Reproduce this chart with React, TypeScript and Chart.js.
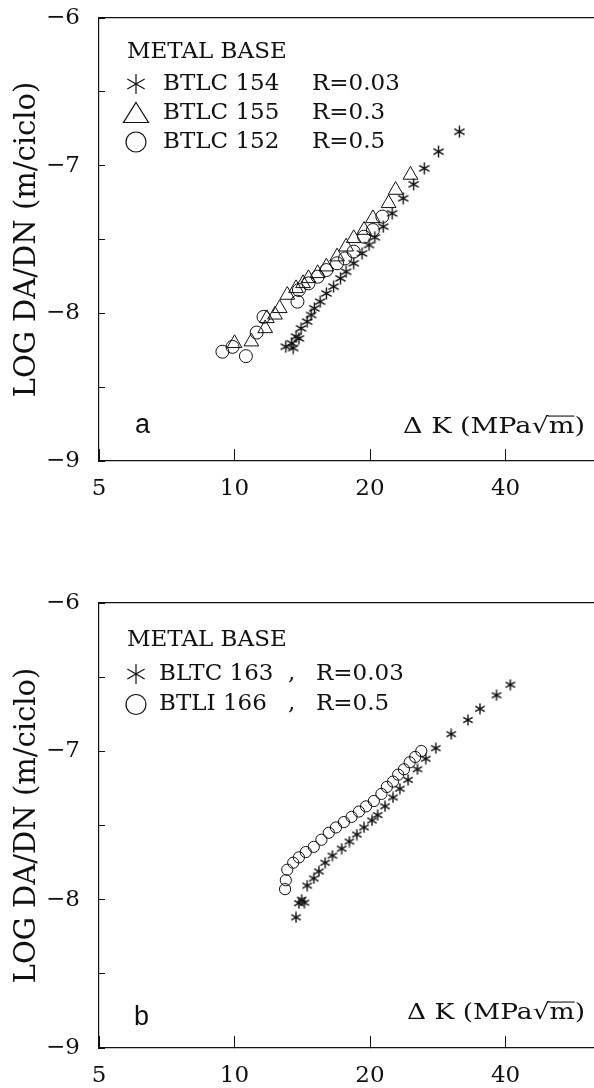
import React, { useEffect, useRef } from 'react';
import { Chart, registerables } from 'chart.js';

Chart.register(...registerables);

// ---------- data ----------
const xTickValues = [5, 10, 20, 40];
const xMin = 5;
const xMax = 62.9;
const yMin = -9;
const yMax = -6;
const yStep = 0.5;
const yTitle = 'LOG DA/DN (m/ciclo)';
const xLabelText = ['\u0394 K (MPa', '\u221A', 'm', ')'];
const legendTitle = 'METAL BASE';

// panel a
const a154X = [31.6, 28.4, 26.4, 25.0, 23.7, 22.4, 21.4, 20.5, 19.9, 19.2, 18.4, 17.7, 17.2, 16.6, 16.0, 15.5, 15.05, 14.8, 14.5, 14.06, 13.9, 13.7, 13.4, 13.5, 13.0];
const a154Y = [-6.77, -6.905, -7.018, -7.126, -7.221, -7.323, -7.413, -7.485, -7.537, -7.594, -7.661, -7.718, -7.763, -7.819, -7.865, -7.921, -7.966, -8.011, -8.056, -8.102, -8.17, -8.158, -8.203, -8.235, -8.226];
const a155X = [24.6, 22.8, 22.0, 20.3, 19.4, 18.4, 17.7, 16.9, 16.0, 15.3, 14.6, 14.2, 13.7, 13.1, 12.6, 12.3, 11.8, 11.7, 10.9, 10.0];
const a155Y = [-7.063, -7.165, -7.255, -7.357, -7.436, -7.492, -7.549, -7.616, -7.684, -7.729, -7.763, -7.797, -7.831, -7.876, -7.966, -8.01, -8.034, -8.102, -8.192, -8.203];
const a152X = [21.3, 20.3, 19.4, 18.4, 17.6, 16.9, 16.0, 15.3, 14.6, 13.9, 13.8, 11.6, 11.2, 9.9, 9.4, 10.6];
const a152Y = [-7.345, -7.436, -7.481, -7.582, -7.628, -7.661, -7.707, -7.752, -7.797, -7.842, -7.921, -8.024, -8.13, -8.227, -8.26, -8.29];
const aNames = ['BTLC 154', 'BTLC 155', 'BTLC 152'];
const aRatios = ['R=0.03', 'R=0.3', 'R=0.5'];
const aSymbols = ['asterisk', 'triangle', 'circle'];

// panel b
const b163X = [41.0, 38.2, 35.1, 33.0, 30.3, 28.0, 26.6, 25.5, 24.3, 23.3, 22.5, 21.6, 20.8, 20.2, 19.4, 18.7, 18.0, 17.3, 16.5, 15.9, 15.4, 15.0, 14.5, 14.3, 14.1, 13.9, 13.7];
const b163Y = [-6.551, -6.622, -6.713, -6.789, -6.884, -6.979, -7.05, -7.121, -7.192, -7.252, -7.311, -7.371, -7.43, -7.466, -7.513, -7.561, -7.608, -7.656, -7.703, -7.751, -7.81, -7.857, -7.905, -8.02, -8.0, -8.024, -8.119];
const b166X = [26.0, 25.2, 24.5, 23.8, 23.1, 22.5, 21.8, 21.2, 20.4, 19.6, 18.9, 18.2, 17.5, 16.8, 16.2, 15.6, 15.0, 14.4, 13.9, 13.5, 13.1, 13.0, 12.95];
const b166Y = [-6.998, -7.038, -7.074, -7.121, -7.157, -7.204, -7.24, -7.287, -7.335, -7.371, -7.406, -7.442, -7.477, -7.513, -7.549, -7.596, -7.644, -7.679, -7.715, -7.751, -7.798, -7.869, -7.929];
const bNames = ['BLTC 163', 'BTLI 166'];
const bRatios = ['R=0.03', 'R=0.5'];
const bSymbols = ['asterisk', 'circle'];

// ---------- styling ----------
const INK = '#111111';
const SERIF = '"DejaVu Serif", serif';
const SANS = '"Liberation Sans", Arial, sans-serif';

function makeAsterisk(size: number, lw: number): HTMLCanvasElement {
  const c = document.createElement('canvas');
  c.width = size;
  c.height = size;
  const ctx = c.getContext('2d')!;
  ctx.strokeStyle = INK;
  ctx.lineWidth = lw;
  const r = size / 2 - 0.6;
  const cx = size / 2;
  const cy = size / 2;
  ctx.beginPath();
  for (const deg of [90, 30, -30]) {
    const a = (deg * Math.PI) / 180;
    ctx.moveTo(cx - r * Math.cos(a), cy - r * Math.sin(a));
    ctx.lineTo(cx + r * Math.cos(a), cy + r * Math.sin(a));
  }
  ctx.stroke();
  return c;
}

function pts(xs: number[], ys: number[]) {
  return xs.map((x, i) => ({ x, y: ys[i] }));
}

function drawLegendSymbol(ctx: CanvasRenderingContext2D, kind: string, x: number, y: number) {
  ctx.save();
  ctx.strokeStyle = INK;
  ctx.lineWidth = 1.2;
  ctx.beginPath();
  if (kind === 'asterisk') {
    const r = 10;
    for (const deg of [90, 30, -30]) {
      const a = (deg * Math.PI) / 180;
      ctx.moveTo(x - r * Math.cos(a), y - r * Math.sin(a));
      ctx.lineTo(x + r * Math.cos(a), y + r * Math.sin(a));
    }
  } else if (kind === 'triangle') {
    ctx.moveTo(x, y - 11);
    ctx.lineTo(x + 12.5, y + 9);
    ctx.lineTo(x - 12.5, y + 9);
    ctx.closePath();
  } else {
    ctx.arc(x, y, 10, 0, Math.PI * 2);
  }
  ctx.stroke();
  ctx.restore();
}

interface PanelCfg {
  letter: string;
  names: string[];
  ratios: string[];
  symbols: string[];
  comma: boolean;
  titleDx: number;
  titleDy: number;
  rowDy: number[];
  symDx: number;
  nameDx: number;
  commaDx: number;
  rDx: number;
  letterDx: number;
  letterBase: number;
  dkBase: number;
  dkLeft: number;
  dkRight: number;
}

function makeAnnotPlugin(cfg: PanelCfg) {
  return {
    id: 'annot',
    afterDraw(chart: any) {
      const { ctx, chartArea: a } = chart;
      ctx.save();
      ctx.fillStyle = INK;
      ctx.textAlign = 'left';
      ctx.textBaseline = 'middle';
      ctx.font = `23px ${SERIF}`;
      ctx.fillText(legendTitle, a.left + cfg.titleDx, a.top + cfg.titleDy);
      cfg.names.forEach((name, i) => {
        const y = a.top + cfg.rowDy[i];
        drawLegendSymbol(ctx, cfg.symbols[i], a.left + cfg.symDx, y);
        ctx.fillText(name, a.left + cfg.nameDx, y);
        if (cfg.comma) ctx.fillText(',', a.left + cfg.commaDx, y);
        ctx.fillText(cfg.ratios[i], a.left + cfg.rDx, y);
      });
      // panel letter
      ctx.textBaseline = 'alphabetic';
      ctx.font = `27px ${SANS}`;
      ctx.fillText(cfg.letter, a.left + cfg.letterDx, a.bottom - cfg.letterBase);
      // Delta K label (wide face: stretched horizontally)
      const fs = 22;
      ctx.font = `${fs}px ${SERIF}`;
      const widths = xLabelText.map((t) => ctx.measureText(t).width);
      const total = widths.reduce((s, w) => s + w, 0);
      const sx = (cfg.dkRight - cfg.dkLeft) / total;
      const base = a.bottom - cfg.dkBase;
      ctx.translate(cfg.dkLeft, base);
      ctx.scale(sx, 1);
      let x = 0;
      const xs: number[] = [];
      xLabelText.forEach((t, i) => {
        xs.push(x);
        ctx.fillText(t, x, 0);
        x += widths[i];
      });
      ctx.strokeStyle = INK;
      ctx.lineWidth = 1.1;
      ctx.beginPath();
      const oy = -fs * 0.77;
      ctx.moveTo(xs[2] - 1, oy);
      ctx.lineTo(xs[2] + widths[2], oy);
      ctx.stroke();
      ctx.restore();
    },
  };
}

function buildConfig(datasets: any[], chartTop: number, chartBottom: number, canvasH: number, plugin: any) {
  const tickFont = { family: SERIF, size: 23 };
  return {
    type: 'scatter' as const,
    data: { datasets },
    options: {
      responsive: false,
      animation: false as const,
      devicePixelRatio: 1,
      layout: { padding: 0, autoPadding: false },
      events: [],
      plugins: { legend: { display: false }, tooltip: { enabled: false } },
      scales: {
        x: {
          type: 'logarithmic' as const,
          position: 'bottom' as const,
          min: xMin,
          max: xMax,
          afterBuildTicks: (s: any) => {
            s.ticks = xTickValues.map((v) => ({ value: v }));
          },
          afterFit: (s: any) => {
            s.height = canvasH - chartBottom;
            s.paddingLeft = 0;
            s.paddingRight = 0;
          },
          ticks: {
            autoSkip: false,
            maxRotation: 0,
            color: INK,
            font: tickFont,
            padding: 26,
            callback: (v: any) => String(v),
          },
          grid: { display: true, drawOnChartArea: false, drawTicks: true, tickLength: -12, color: INK, lineWidth: 1 },
          border: { display: true, color: INK, width: 1.2 },
        },
        xTop: {
          type: 'logarithmic' as const,
          position: 'top' as const,
          min: xMin,
          max: xMax,
          ticks: { display: false },
          grid: { display: true, drawOnChartArea: false, drawTicks: false },
          border: { display: true, color: INK, width: 1.2 },
          afterFit: (s: any) => {
            s.height = chartTop;
            s.paddingLeft = 0;
            s.paddingRight = 0;
          },
        },
        y: {
          type: 'linear' as const,
          position: 'left' as const,
          min: yMin,
          max: yMax,
          ticks: {
            stepSize: yStep,
            autoSkip: false,
            color: INK,
            font: tickFont,
            padding: 25,
            callback: (v: any) => (Number.isInteger(v) ? '\u2212' + Math.abs(v) : ''),
          },
          grid: { display: true, drawOnChartArea: false, drawTicks: true, tickLength: -6, color: INK, lineWidth: 1 },
          border: { display: true, color: INK, width: 1.2 },
          title: {
            display: true,
            text: yTitle,
            color: INK,
            font: { family: SERIF, size: 29 },
            padding: { top: 10, bottom: 0 },
          },
          afterFit: (s: any) => {
            s.width = 99;
            s.paddingTop = 0;
            s.paddingBottom = 0;
          },
        },
      },
    },
    plugins: [plugin],
  };
}

function Panel(props: { top: number; height: number; datasets: () => any[]; chartTop: number; chartBottom: number; cfg: PanelCfg }) {
  const ref = useRef<HTMLCanvasElement | null>(null);
  useEffect(() => {
    const canvas = ref.current!;
    const chart = new Chart(
      canvas,
      buildConfig(props.datasets(), props.chartTop, props.chartBottom, props.height, makeAnnotPlugin(props.cfg)) as any
    );
    return () => chart.destroy();
  }, []);
  return (
    <canvas
      ref={ref}
      width={594}
      height={props.height}
      style={{ position: 'absolute', left: 0, top: props.top, width: 594, height: props.height, display: 'block' }}
    />
  );
}

function hollow(data: any[], style: any, radius: number) {
  return {
    data,
    xAxisID: 'x',
    yAxisID: 'y',
    showLine: false,
    pointStyle: style,
    pointRadius: radius,
    borderColor: INK,
    borderWidth: 1,
    backgroundColor: 'rgba(0,0,0,0)',
  };
}

export default function App() {
  const datasetsA = () => {
    const star = makeAsterisk(13, 1.4);
    return [
      hollow(pts(a154X, a154Y), star, 6),
      hollow(pts(a155X, a155Y), 'triangle', 8.5),
      hollow(pts(a152X, a152Y), 'circle', 6.5),
    ];
  };
  const datasetsB = () => {
    const star = makeAsterisk(12, 1.4);
    return [hollow(pts(b163X, b163Y), star, 6), hollow(pts(b166X, b166Y), 'circle', 5.6)];
  };
  const cfgA: PanelCfg = {
    letter: 'a',
    names: aNames,
    ratios: aRatios,
    symbols: aSymbols,
    comma: false,
    titleDx: 28,
    titleDy: 34,
    rowDy: [66, 95.5, 124],
    symDx: 37,
    nameDx: 64,
    commaDx: 0,
    rDx: 213,
    letterDx: 36,
    letterBase: 28,
    dkBase: 28,
    dkLeft: 403,
    dkRight: 585,
  };
  const cfgB: PanelCfg = {
    letter: 'b',
    names: bNames,
    ratios: bRatios,
    symbols: bSymbols,
    comma: true,
    titleDx: 28,
    titleDy: 37,
    rowDy: [71, 101.5],
    symDx: 37,
    nameDx: 60,
    commaDx: 189,
    rDx: 217,
    letterDx: 35,
    letterBase: 23,
    dkBase: 29,
    dkLeft: 407,
    dkRight: 585,
  };
  return (
    <div style={{ position: 'absolute', left: 0, top: 0, width: 594, height: 1088, overflow: 'hidden', background: '#fff' }}>
      <Panel top={0} height={540} datasets={datasetsA} chartTop={18} chartBottom={461} cfg={cfgA} />
      <Panel top={540} height={548} datasets={datasetsB} chartTop={63} chartBottom={508} cfg={cfgB} />
    </div>
  );
}
